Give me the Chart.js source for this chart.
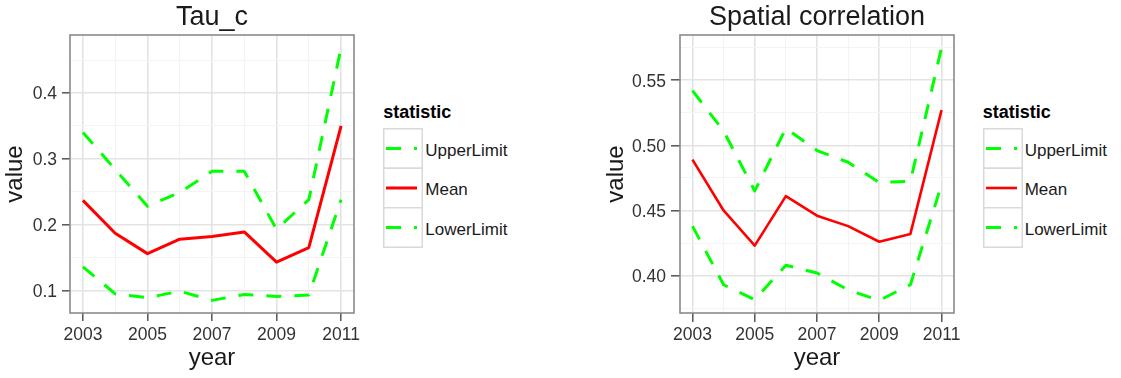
<!DOCTYPE html>
<html><head><meta charset="utf-8">
<script src="https://cdn.jsdelivr.net/npm/chart.js@4.4.1/dist/chart.umd.min.js"></script>
<style>
html,body{margin:0;padding:0;background:#fff;}
body{width:1121px;height:378px;position:relative;overflow:hidden;font-family:'Liberation Sans',Arial,sans-serif;}
.panel{position:absolute;top:0;width:370px;height:378px;}
.ltitle{position:absolute;font-weight:bold;font-size:18px;line-height:20px;color:#000;white-space:nowrap;}
.llabel{position:absolute;font-size:17px;line-height:20px;color:#1a1a1a;white-space:nowrap;}
svg.lkeys{position:absolute;overflow:visible;}
</style></head><body>
<div class="panel" style="left:0"><canvas id="c1" width="370" height="378"></canvas></div>
<div class="panel" style="left:600px"><canvas id="c2" width="370" height="378"></canvas></div>
<div id="leg1"></div>
<div id="leg2"></div>
<script>
// ---- data ----
const years = [2003, 2004, 2005, 2006, 2007, 2008, 2009, 2010, 2011];
const seriesNames = ['UpperLimit', 'Mean', 'LowerLimit'];
const legendTitle = 'statistic';
const tauUpper = [0.340, 0.284, 0.228, 0.249, 0.281, 0.281, 0.193, 0.238, 0.469];
const tauMean  = [0.237, 0.187, 0.156, 0.178, 0.182, 0.189, 0.143, 0.165, 0.350];
const tauLower = [0.136, 0.095, 0.089, 0.099, 0.085, 0.094, 0.091, 0.093, 0.238];
const spUpper  = [0.542, 0.511, 0.465, 0.513, 0.496, 0.487, 0.4715, 0.4725, 0.575];
const spMean   = [0.489, 0.450, 0.423, 0.461, 0.446, 0.438, 0.426, 0.432, 0.527];
const spLower  = [0.438, 0.393, 0.3815, 0.408, 0.402, 0.389, 0.381, 0.393, 0.470];
const xTickLabels = ['2003', '2005', '2007', '2009', '2011'];
const tauYTickLabels = ['0.1', '0.2', '0.3', '0.4'];
const spYTickLabels = ['0.40', '0.45', '0.50', '0.55'];

// ---- styling ----
Chart.defaults.font.family = "'Liberation Sans', Arial, sans-serif";
const GREEN = '#00FF00', RED = '#FF0000';
const MAJOR = '#e3e3e3', MINOR = '#f3f3f3';

function expandRange(arrs) {
  const all = [].concat(...arrs);
  const lo = Math.min(...all), hi = Math.max(...all);
  const d = (hi - lo) * 0.05;
  return [lo - d, hi + d];
}
function withMinor(majors, lo, hi) {
  const step = majors[1] - majors[0];
  const out = [];
  majors.forEach(v => out.push(v - step / 2, v));
  out.push(majors[majors.length - 1] + step / 2);
  return out.filter(v => v >= lo - 1e-9 && v <= hi + 1e-9);
}
function labelFor(labels, v) {
  const m = labels.find(l => Math.abs(parseFloat(l) - v) < 1e-9);
  return m === undefined ? '' : m;
}
function isMajor(labels, v) { return labelFor(labels, v) !== ''; }

const panelBorder = {
  id: 'panelBorder',
  afterDraw(chart) {
    const {ctx, chartArea: a} = chart;
    ctx.save();
    ctx.strokeStyle = '#8a8a8a';
    ctx.lineWidth = 1.6;
    ctx.strokeRect(a.left, a.top, a.right - a.left, a.bottom - a.top);
    ctx.restore();
  }
};

function makeChart(id, cfg) {
  const xr = expandRange([years]);
  const yr = expandRange([cfg.upper, cfg.mean, cfg.lower]);
  const xTicks = withMinor(xTickLabels.map(Number), xr[0], xr[1]);
  const yTicks = withMinor(cfg.yLabels.map(Number), yr[0], yr[1]);
  const pts = arr => years.map((y, i) => ({x: y, y: arr[i]}));
  const gridOpts = (labels) => ({
    color: c => isMajor(labels, c.tick.value) ? MAJOR : MINOR,
    lineWidth: c => isMajor(labels, c.tick.value) ? 1.6 : 1,
    tickColor: c => isMajor(labels, c.tick.value) ? '#555' : 'rgba(0,0,0,0)',
    tickWidth: 1.5,
    tickLength: cfg.tickLen,
    drawTicks: true
  });
  return new Chart(document.getElementById(id), {
    type: 'line',
    data: {
      datasets: [
        {label: seriesNames[0], data: pts(cfg.upper), borderColor: GREEN, borderWidth: 3, borderDash: [15, 13]},
        {label: seriesNames[1], data: pts(cfg.mean), borderColor: RED, borderWidth: cfg.meanWidth},
        {label: seriesNames[2], data: pts(cfg.lower), borderColor: GREEN, borderWidth: 3, borderDash: [15, 13]}
      ]
    },
    options: {
      responsive: false, animation: false, devicePixelRatio: 1,
      elements: {point: {radius: 0}, line: {tension: 0, borderCapStyle: 'butt', borderJoinStyle: 'round', fill: false}},
      layout: {padding: {left: 0, right: 16, top: 0, bottom: 0}},
      plugins: {
        legend: {display: false}, tooltip: {enabled: false},
        title: {display: true, text: cfg.title, fullSize: false, color: '#1a1a1a',
                font: {size: 27, weight: 'normal'}, padding: {top: 0.9, bottom: 1.7}}
      },
      scales: {
        x: {
          type: 'linear', min: xr[0], max: xr[1],
          afterBuildTicks: s => { s.ticks = xTicks.map(v => ({value: v})); },
          afterFit: s => { s.height = 65; },
          grid: gridOpts(xTickLabels),
          border: {display: false},
          ticks: {autoSkip: false, maxRotation: 0, minRotation: 0, padding: cfg.xPad,
                  font: {size: 17.5}, color: '#333', callback: v => labelFor(xTickLabels, v)},
          title: {display: true, text: 'year', color: '#1a1a1a', font: {size: 24}, padding: {top: 0, bottom: 5.2}}
        },
        y: {
          type: 'linear', min: yr[0], max: yr[1],
          afterBuildTicks: s => { s.ticks = yTicks.map(v => ({value: v})); },
          afterFit: s => { s.width = cfg.yW; },
          grid: gridOpts(cfg.yLabels),
          border: {display: false},
          ticks: {autoSkip: false, padding: 5, labelOffset: 1.5,
                  font: {size: 17.5}, color: '#333', callback: v => labelFor(cfg.yLabels, v)},
          title: {display: true, text: 'value', color: '#1a1a1a', font: {size: 24}, padding: {top: cfg.yTitlePad, bottom: 0}}
        }
      }
    },
    plugins: [panelBorder]
  });
}

function buildLegend(el, chart, left) {
  const ds = chart.data.datasets;
  const rowH = 39.5, top0 = 128.3;
  let html = `<div class="ltitle" style="left:${left}px;top:102px">${legendTitle}</div>`;
  let svg = `<svg class="lkeys" width="40" height="120" style="left:${left}px;top:${top0 - 0.75}px">`;
  ds.forEach((d, i) => {
    const y0 = i * rowH + 0.75;
    svg += `<rect x="0.75" y="${y0}" width="38.5" height="${rowH}" fill="#fff" stroke="#d9d9d9" stroke-width="1.5"/>`;
    const cy = y0 + rowH / 2;
    const dash = d.borderDash ? `stroke-dasharray="${d.borderDash.join(' ')}"` : '';
    svg += `<line x1="3" y1="${cy}" x2="34" y2="${cy}" stroke="${d.borderColor}" stroke-width="${d.borderWidth}" ${dash}/>`;
    html += `<div class="llabel" style="left:${left + 42}px;top:${140.55 + i * rowH}px">${d.label}</div>`;
  });
  svg += '</svg>';
  el.innerHTML = svg + html;
}

const c1 = makeChart('c1', {title: 'Tau_c', upper: tauUpper, mean: tauMean, lower: tauLower,
  yLabels: tauYTickLabels, yW: 70, tickLen: 8, xPad: 3.5, yTitlePad: 1.3, meanWidth: 3});
const c2 = makeChart('c2', {title: 'Spatial correlation', upper: spUpper, mean: spMean, lower: spLower,
  yLabels: spYTickLabels, yW: 80, tickLen: 9, xPad: 2.5, yTitlePad: 2.3, meanWidth: 2.6});
buildLegend(document.getElementById('leg1'), c1, 383.3);
buildLegend(document.getElementById('leg2'), c2, 982.7);
</script>
</body></html>
